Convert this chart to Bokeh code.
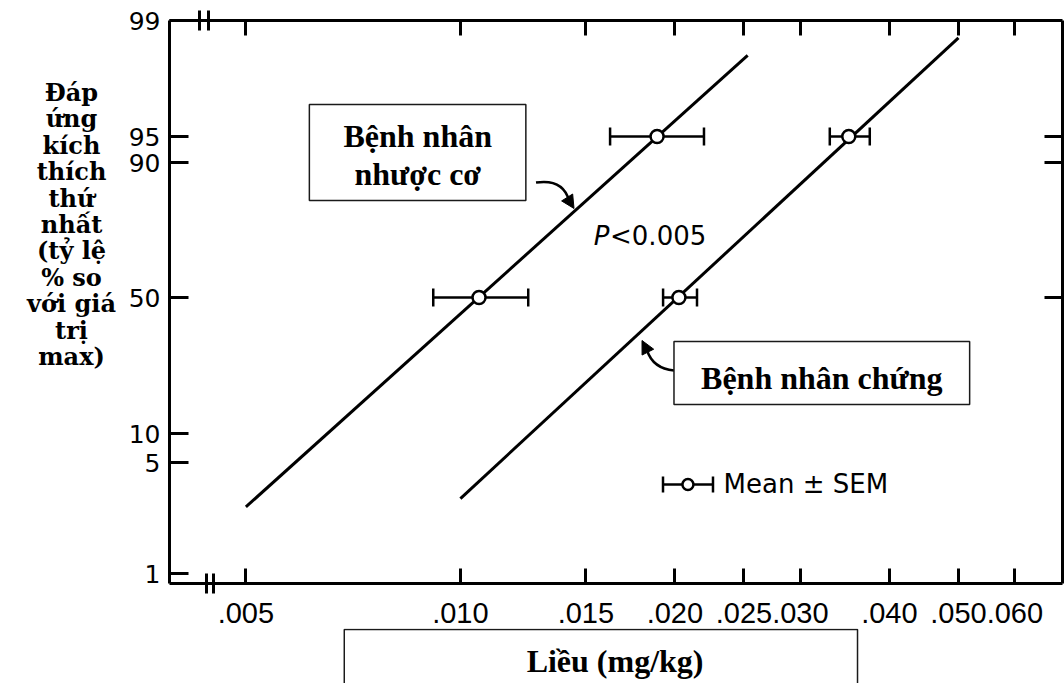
import numpy as np
from bokeh.plotting import figure
from bokeh.layouts import row, column
from bokeh.models import (FixedTicker, LinearAxis, LogAxis, Whisker, TeeHead,
                          ColumnDataSource, Label, BoxAnnotation, Arrow,
                          NormalHead, Range1d)
from bokeh.embed import file_html
from bokeh.resources import INLINE

# ---- dose axis (mg/kg, log scale) ----
DOSE_TICKS = [0.005, 0.010, 0.015, 0.020, 0.025, 0.030, 0.040, 0.050, 0.060]
DOSE_LABELS = [".005", ".010", ".015", ".020", ".025", ".030", ".040", ".050", ".060"]

# ---- response axis (% of max, probability grid) ----
RESP_TICKS = [1, 5, 10, 50, 90, 95, 99]
RESP_RIGHT_TICKS = [50, 90, 95]

# ---- myasthenia patients ----
MG_LINE_DOSE = [0.0050, 0.0253]
MG_LINE_RESP = [3.4, 97.8]
MG_RESP = [50, 95]
MG_MEAN = [0.01062, 0.01888]
MG_LOW = [0.00916, 0.01622]
MG_HIGH = [0.01245, 0.02197]

# ---- control patients ----
CT_LINE_DOSE = [0.0100, 0.0500]
CT_LINE_RESP = [3.7, 98.4]
CT_RESP = [50, 95]
CT_MEAN = [0.02026, 0.03508]
CT_LOW = [0.01925, 0.03299]
CT_HIGH = [0.02148, 0.03754]

Y_TITLE_LINES = ["Đáp", "ứng", "kích", "thích", "thứ", "nhất",
                 "(tỷ lệ", "% so", "với giá", "trị", "max)"]
X_TITLE = "Liều (mg/kg)"

# The response axis is a hand-ruled probability grid: each percentage
# gets its place on the axis from this table (axis units, 50 % at 0).
GRID_PCT = [1, 5, 10, 50, 90, 95, 99]
GRID_POS = [-2.76, -1.65, -1.36, 0.0, 1.35, 1.61, 2.77]


def resp_to_axis(pct):
    return [float(v) for v in np.interp(pct, GRID_PCT, GRID_POS)]


TICK_FONT = "DejaVu Sans"
SERIF = "Liberation Serif"
LEFT_W = 125          # width of the side panel holding the response title
MAIN_W = 1064 - LEFT_W
MAIN_H = 628
BOTTOM_H = 683 - MAIN_H

p = figure(width=MAIN_W, height=MAIN_H, x_axis_type="log",
           x_range=Range1d(0.003906, 0.06998), y_range=Range1d(-2.86, 2.77),
           output_backend="svg", toolbar_location=None,
           min_border_left=168 - LEFT_W, min_border_right=2,
           min_border_top=20, min_border_bottom=MAIN_H - 20 - 563)
p.outline_line_color = None
p.grid.visible = False
p.background_fill_color = "white"
p.border_fill_color = "white"

# axis breaks next to the lower-left corner sit on the minor tick slots
BREAKS_BOTTOM = [0.00440, 0.00450]
BREAKS_TOP = [0.00430, 0.00443]

# bottom dose axis
xa = p.xaxis[0]
xa.ticker = FixedTicker(ticks=DOSE_TICKS, minor_ticks=BREAKS_BOTTOM)
xa.major_label_overrides = {float(t): s for t, s in zip(DOSE_TICKS, DOSE_LABELS)}
xa.major_label_text_font = "Liberation Sans"
xa.major_label_text_font_size = "29px"
xa.major_label_standoff = 9
xa.major_tick_in = 15

# left response axis
ya = p.yaxis[0]
resp_pos = resp_to_axis(RESP_TICKS)
ya.ticker = FixedTicker(ticks=resp_pos)
ya.major_label_overrides = {t: str(v) for t, v in zip(resp_pos, RESP_TICKS)}
ya.major_label_text_font = TICK_FONT
ya.major_label_text_font_size = "25px"
ya.major_label_standoff = 9
ya.major_tick_in = 19

# top and right frame edges carry ticks only
top = LogAxis(ticker=FixedTicker(ticks=DOSE_TICKS, minor_ticks=BREAKS_TOP),
              major_tick_in=15)
top.major_label_overrides = {float(t): "" for t in DOSE_TICKS}
right_pos = resp_to_axis(RESP_RIGHT_TICKS)
right = LinearAxis(ticker=FixedTicker(ticks=right_pos), major_tick_in=18)
right.major_label_overrides = {t: "" for t in right_pos}
for ax in (top, right):
    ax.major_label_standoff = 0
    ax.major_label_text_font_size = "8px"
p.add_layout(top, "above")
p.add_layout(right, "right")

for ax in (xa, ya, top, right):
    ax.axis_line_width = 3
    ax.axis_line_color = "black"
    ax.major_tick_out = 0
    ax.major_tick_line_width = 3
    ax.major_tick_line_color = "black"
    ax.major_label_text_color = "black"
    ax.minor_tick_in = 0
    ax.minor_tick_out = 0
    ax.minor_tick_line_color = None
for ax in (xa, top):
    ax.minor_tick_in = 10
    ax.minor_tick_out = 10
    ax.minor_tick_line_width = 3
    ax.minor_tick_line_color = "black"

# dose-response lines
p.line(MG_LINE_DOSE, resp_to_axis(MG_LINE_RESP), line_width=3, line_color="black")
p.line(CT_LINE_DOSE, resp_to_axis(CT_LINE_RESP), line_width=3, line_color="black")


def add_points(mean, low, high, resp, cap=18, size=13):
    src = ColumnDataSource(dict(x=mean, lo=low, hi=high, y=resp_to_axis(resp)))
    w = Whisker(source=src, base="y", lower="lo", upper="hi", dimension="width",
                line_width=2.5, line_color="black", level="underlay",
                upper_head=TeeHead(size=cap, line_width=2.5, line_color="black"),
                lower_head=TeeHead(size=cap, line_width=2.5, line_color="black"))
    p.add_layout(w)
    p.scatter("x", "y", source=src, marker="circle", size=size,
              fill_color="white", line_color="black", line_width=2.5)


add_points(MG_MEAN, MG_LOW, MG_HIGH, MG_RESP)
add_points(CT_MEAN, CT_LOW, CT_HIGH, CT_RESP)

# legend key: mean +/- SEM
key = ColumnDataSource(dict(x=[0.02086], lo=[0.019245], hi=[0.022619], y=[-1.87]))
p.add_layout(Whisker(source=key, base="y", lower="lo", upper="hi", dimension="width",
                     line_width=2.5, line_color="black", level="underlay",
                     upper_head=TeeHead(size=16, line_width=2.5, line_color="black"),
                     lower_head=TeeHead(size=16, line_width=2.5, line_color="black")))
p.scatter("x", "y", source=key, marker="circle", size=11, fill_color="white",
          line_color="black", line_width=2.5)
p.add_layout(Label(x=0.023407, y=-1.86, text="Mean ± SEM", text_align="left",
                   text_baseline="alphabetic", text_font=TICK_FONT,
                   text_font_size="26px", text_color="black"))

# significance note
p.add_layout(Label(x=0.015392, y=0.62, text="P", text_align="left",
                   text_baseline="alphabetic", text_font=TICK_FONT,
                   text_font_style="italic", text_font_size="26px", text_color="black"))
p.add_layout(Label(x=0.016218, y=0.62, text="<0.005", text_align="left",
                   text_baseline="alphabetic", text_font=TICK_FONT,
                   text_font_size="26px", text_color="black"))

# curved pointers from the group captions to their lines
HEAD = dict(size=13, fill_color="black", line_color="black", line_width=1)
p.quadratic(x0=[0.012768], y0=[1.15], cx=[0.013933], cy=[1.19],
            x1=[0.014205], y1=[0.97], line_width=2.5, line_color="black")
p.add_layout(Arrow(end=NormalHead(**HEAD),
                   x_start=0.014205, y_start=0.97, x_end=0.014436, y_end=0.89,
                   line_width=2.5, line_color="black"))
p.quadratic(x0=[0.019942], y0=[-0.73], cx=[0.018636], cy=[-0.71],
            x1=[0.018279], y1=[-0.53], line_width=2.5, line_color="black")
p.add_layout(Arrow(end=NormalHead(**HEAD),
                   x_start=0.018279, y_start=-0.53, x_end=0.017983, y_end=-0.43,
                   line_width=2.5, line_color="black"))

CAPTION = dict(text_font=SERIF, text_font_style="bold",
               text_font_size="32px", text_color="black", text_align="center",
               text_baseline="alphabetic")
BOX = dict(fill_color="white", fill_alpha=1.0, line_color="#1a1a1a",
           line_alpha=1.0, line_width=1.5)

# caption boxes
p.add_layout(BoxAnnotation(left=0.006138, right=0.012355, top=1.93, bottom=0.97, **BOX))
p.add_layout(Label(x=0.008712, y=1.62, text="Bệnh nhân", **CAPTION))
p.add_layout(Label(x=0.008712, y=1.24, text="nhược cơ", **CAPTION))

p.add_layout(BoxAnnotation(left=0.01994, right=0.05184, top=-0.44, bottom=-1.07, **BOX))
p.add_layout(Label(x=0.03215, y=-0.80, text="Bệnh nhân chứng", **CAPTION))


def blank_panel(w, h, **kw):
    f = figure(width=w, height=h, y_range=Range1d(h, 0),
               output_backend="svg", toolbar_location=None, min_border=0,
               x_axis_location=None, y_axis_location=None, **kw)
    f.grid.visible = False
    f.outline_line_color = None
    f.background_fill_color = "white"
    f.border_fill_color = "white"
    return f


# response axis title, one word group per line
side = blank_panel(LEFT_W, 683, x_range=Range1d(0, LEFT_W))
for i, line in enumerate(Y_TITLE_LINES):
    side.add_layout(Label(x=71, y=92 + i * 26.4, text=line, text_font="DejaVu Serif",
                          text_font_style="bold", text_font_size="24px",
                          text_color="black", text_align="center",
                          text_baseline="alphabetic"))

# dose axis title in its open-bottomed frame (shares the dose scale)
bottom = blank_panel(MAIN_W, BOTTOM_H, x_range=p.x_range, x_axis_type="log")
bottom.add_layout(BoxAnnotation(left=0.006871, right=0.036083,
                                top=1, bottom=BOTTOM_H + 20, **BOX))
bottom.add_layout(Label(x=0.016484, y=32, text=X_TITLE, **CAPTION))

layout = row(side, column(p, bottom, spacing=0), spacing=0)
open("out.html", "w").write(file_html(layout, INLINE))
